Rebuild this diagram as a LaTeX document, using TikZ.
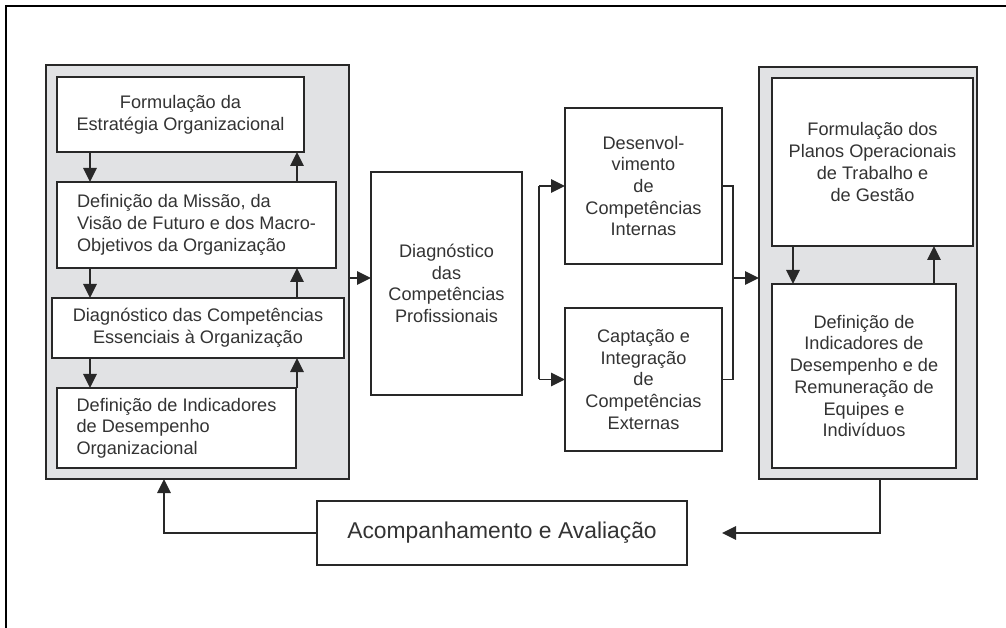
\documentclass[tikz,border=0pt]{standalone}
\usepackage{fontspec}
\setmainfont{Liberation Sans}
\usetikzlibrary{arrows.meta}

\definecolor{panelgray}{RGB}{225,226,228}
\definecolor{inkgray}{RGB}{40,40,40}

\tikzset{
  wh/.style 2 args={minimum width=#1*0.03cm, minimum height=#2*0.03cm},
  panel/.style={draw=inkgray, line width=1.6pt, fill=panelgray, inner sep=0pt, outer sep=0pt},
  box/.style={draw=inkgray, line width=1.6pt, fill=white, inner sep=0pt, outer sep=0pt,
    align=center, text=black!80, font=\fontsize{15.5}{18.5}\selectfont},
  link/.style={draw=inkgray, line width=1.6pt},
  arr/.style={link, -{Triangle[length=0.42cm, width=0.4cm]}},
}

\begin{document}
\begin{tikzpicture}[x=0.03cm, y=-0.03cm]
			\useasboundingbox (0,0) rectangle (1006,628);
			\draw[line width=1.4pt] (6,628) -- (6,6) -- (1006,6);
			
			% Left panel
			\node[panel, wh={303}{414}] (lp) at (197.5,272) {};
			\node[box, wh={247}{75}] (l1) at (180.5,114.5) {Formulação da\\Estratégia Organizacional};
			\node[box, wh={279}{86}, align=left] (l2) at (196.5,225) {Definição da Missão, da\\Visão de Futuro e dos Macro-\\Objetivos da Organização};
			\node[box, wh={292}{60}] (l3) at (198,328) {Diagnóstico das Competências\\Essenciais à Organização};
			\node[box, wh={239}{80}, align=left] (l4) at (176.5,428) {Definição de Indicadores\\de Desempenho\\Organizacional};
			\coordinate (ldn) at (90,0);
			\coordinate (lup) at (297,0);
			\draw[arr] (l1.south -| ldn) -- (l2.north -| ldn);
			\draw[arr] (l2.south -| ldn) -- (l3.north -| ldn);
			\draw[arr] (l3.south -| ldn) -- (l4.north -| ldn);
			\draw[arr] (l2.north -| lup) -- (l1.south -| lup);
			\draw[arr] (l3.north -| lup) -- (l2.south -| lup);
			\draw[arr] (l4.north -| lup) -- (l3.south -| lup);
			
			% Middle
			\node[box, wh={151}{223}] (mid) at (446.5,283.5) {Diagnóstico\\das\\Competências\\Profissionais};
			\coordinate (rowm) at (0,278);
			\draw[arr] (lp.east |- rowm) -- (mid.west |- rowm);
			
			\node[box, wh={157}{156}] (c1) at (643.5,186) {Desenvol-\\vimento\\de\\Competências\\Internas};
			\node[box, wh={157}{143}] (c2) at (643.5,379.5) {Captação e\\Integração\\de\\Competências\\Externas};
			\coordinate (fork) at (539,0);
			\coordinate (join) at (733,278);
			\draw[link] (c1.west -| fork) -- (c2.west -| fork);
			\draw[arr] (c1.west -| fork) -- (c1.west);
			\draw[arr] (c2.west -| fork) -- (c2.west);
			\draw[link] (c1.east) -| (join) |- (c2.east);
			
			% Right panel
			\node[panel, wh={218}{412}] (rp) at (868,273) {};
			\node[box, wh={201}{168}] (r1) at (872.5,162) {Formulação dos\\Planos Operacionais\\de Trabalho e\\de Gestão};
			\node[box, wh={184}{184}] (r2) at (864,376) {Definição de\\Indicadores de\\Desempenho e de\\Remuneração de\\Equipes e\\Indivíduos};
			\coordinate (rdn) at (793,0);
			\coordinate (rup) at (934,0);
			\draw[arr] (r1.south -| rdn) -- (r2.north -| rdn);
			\draw[arr] (r2.north -| rup) -- (r1.south -| rup);
			\draw[arr] (join) -- (rp.west |- join);
			
			% Feedback
			\node[box, wh={370}{64}, font=\fontsize{19.5}{23}\selectfont] (acomp) at (502,533) {Acompanhamento e Avaliação};
			\coordinate (lfb) at (164,0);
			\coordinate (rfb) at (880,0);
			\coordinate (aend) at (722,533);
			\draw[arr] (acomp.west) -| (lp.south -| lfb);
			\draw[arr] (rp.south -| rfb) |- (aend);
\end{tikzpicture}
\end{document}
